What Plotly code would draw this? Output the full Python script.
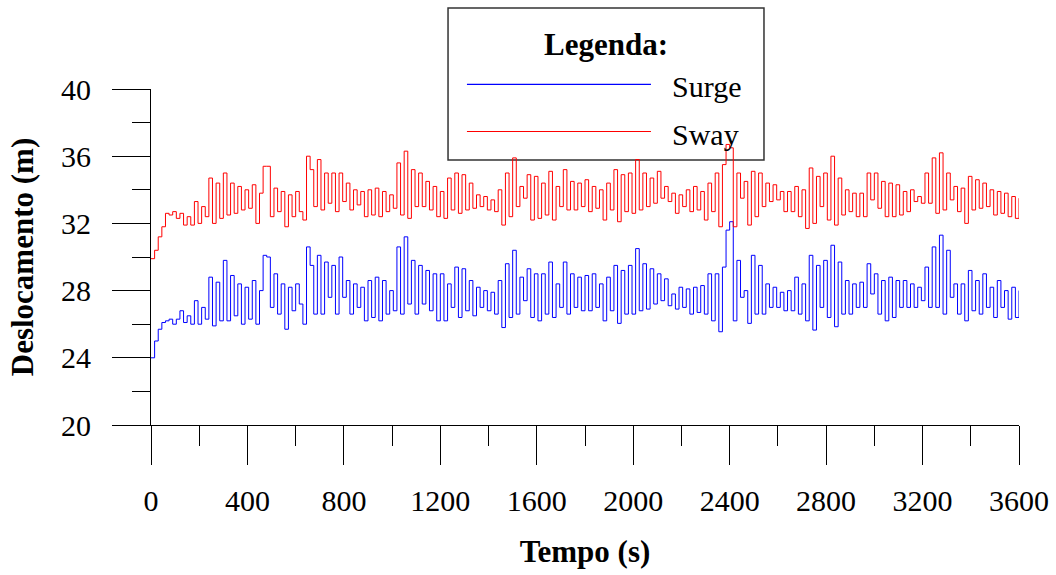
import plotly.graph_objects as go

# Time samples (s), one every 15 s
tempo = list(range(0, 3601, 15))

# Surge displacement (m)
surge = [
    24.0, 25.0, 25.7, 26.1, 26.2, 26.3, 26.0, 26.3, 26.8, 26.1, 26.5, 26.0,
    27.4, 26.0, 27.0, 26.3, 28.8, 25.9, 28.5, 26.2, 29.8, 26.2, 28.9, 26.5,
    28.4, 26.0, 28.2, 26.3, 28.6, 26.0, 28.0, 30.1, 30.0, 27.0, 29.0, 26.6,
    28.4, 25.7, 28.2, 26.8, 28.4, 27.2, 26.0, 30.6, 29.5, 26.6, 30.1, 26.6,
    29.7, 27.6, 29.5, 26.6, 30.0, 27.6, 28.6, 26.6, 28.4, 27.0, 28.2, 26.2,
    28.6, 26.4, 28.8, 26.2, 28.6, 26.6, 28.0, 26.8, 30.6, 26.6, 31.2, 27.2,
    29.8, 26.6, 29.5, 27.2, 29.2, 26.8, 29.0, 26.2, 29.0, 26.2, 28.4, 27.0,
    29.4, 26.4, 29.3, 26.8, 28.6, 26.5, 28.2, 27.0, 28.0, 26.8, 27.9, 26.6,
    28.6, 25.8, 29.6, 26.4, 30.4, 26.6, 28.8, 27.4, 29.3, 26.4, 29.0, 26.2,
    29.0, 26.6, 29.7, 26.4, 28.4, 27.0, 29.7, 26.6, 29.0, 27.0, 28.8, 26.8,
    28.9, 26.8, 29.0, 27.0, 28.4, 26.2, 28.8, 26.8, 29.5, 26.05, 29.2, 26.6,
    29.5, 26.6, 30.5, 26.8, 29.6, 26.9, 29.3, 27.2, 29.0, 27.4, 28.7, 27.1,
    27.8, 26.9, 28.2, 27.0, 28.1, 26.6, 28.2, 26.7, 28.3, 26.6, 29.0, 26.2,
    29.0, 25.55, 29.4, 31.6, 32.1, 26.2, 29.8, 27.6, 28.0, 26.05, 30.1, 26.6,
    29.5, 26.6, 28.4, 27.0, 28.2, 27.0, 27.9, 26.8, 28.0, 26.8, 28.8, 26.6,
    28.4, 26.2, 30.1, 25.65, 29.5, 27.0, 29.8, 26.4, 30.7, 25.85, 29.7, 26.6,
    28.6, 26.6, 28.4, 27.0, 28.5, 27.0, 29.6, 27.8, 29.0, 26.6, 28.6, 26.2,
    28.8, 26.4, 28.6, 27.0, 28.6, 27.0, 28.4, 27.0, 28.2, 27.4, 29.4, 27.0,
    30.6, 27.0, 31.3, 26.6, 30.4, 27.6, 28.4, 26.6, 28.4, 26.2, 29.2, 26.8,
    28.6, 26.6, 29.0, 27.0, 28.2, 26.4, 28.6, 27.0, 28.0, 26.3, 28.2, 26.4,
    28.0,
]

# Sway displacement (m)
sway = [
    29.9, 30.4, 31.2, 31.8, 32.6, 32.5, 32.7, 32.3, 32.6, 31.9, 32.4, 31.9,
    33.3, 32.0, 33.0, 32.4, 34.7, 32.0, 34.4, 32.3, 35.0, 32.5, 34.4, 32.6,
    34.2, 32.8, 34.0, 32.9, 34.3, 32.0, 33.8, 35.4, 35.4, 32.4, 34.1, 32.7,
    33.9, 31.8, 33.7, 32.4, 33.9, 32.7, 32.2, 36.0, 35.2, 33.0, 35.8, 32.8,
    35.0, 33.2, 35.0, 32.7, 35.0, 33.3, 34.4, 32.8, 34.0, 33.1, 33.9, 32.4,
    34.0, 32.5, 34.1, 32.4, 33.9, 32.7, 33.7, 32.9, 35.6, 32.5, 36.3, 32.3,
    35.2, 33.0, 35.0, 33.0, 34.5, 32.8, 34.2, 32.4, 33.9, 32.3, 34.7, 32.8,
    35.0, 32.6, 34.9, 32.8, 34.4, 32.9, 33.7, 33.0, 33.6, 32.8, 33.4, 32.7,
    34.0, 31.9, 35.0, 32.4, 35.9, 33.0, 34.2, 33.5, 34.9, 32.2, 34.8, 32.3,
    34.4, 32.5, 35.1, 32.2, 34.2, 33.0, 35.2, 32.8, 34.5, 32.8, 34.4, 33.0,
    34.6, 32.7, 34.2, 32.9, 34.0, 32.2, 34.4, 32.8, 35.2, 32.1, 34.9, 32.7,
    35.0, 32.6, 35.8, 32.8, 35.0, 33.0, 34.7, 33.2, 35.1, 33.5, 34.2, 33.3,
    33.8, 32.6, 33.7, 33.0, 34.0, 32.7, 34.2, 32.8, 33.9, 32.2, 34.4, 32.7,
    35.0, 31.8, 35.5, 36.7, 36.5, 31.8, 35.0, 33.5, 34.5, 31.9, 35.1, 32.4,
    35.0, 33.0, 34.4, 33.3, 34.3, 33.4, 33.9, 32.7, 33.9, 32.7, 34.2, 32.4,
    34.0, 31.7, 35.3, 32.0, 34.8, 33.0, 35.0, 32.2, 36.0, 31.9, 34.7, 32.5,
    34.0, 32.7, 33.8, 32.4, 33.8, 32.4, 35.0, 33.4, 35.0, 32.9, 34.5, 32.4,
    34.4, 32.4, 34.3, 32.5, 33.9, 32.7, 34.0, 33.3, 33.6, 33.2, 35.0, 33.2,
    35.9, 32.6, 36.2, 32.8, 35.0, 33.4, 34.2, 32.7, 34.1, 32.0, 34.8, 32.8,
    34.6, 32.9, 34.4, 33.0, 34.0, 32.5, 33.9, 32.6, 33.8, 32.4, 33.6, 32.3,
    33.5,
]

x_ticks = list(range(0, 3601, 400))
y_ticks = [20, 24, 28, 32, 36, 40]
series_names = ["Surge", "Sway"]
series_colors = ["#0000ff", "#ff0000"]

FONT = "Liberation Serif"

fig = go.Figure()
for name, vals, col in zip(series_names, [surge, sway], series_colors):
    fig.add_trace(go.Scatter(
        x=tempo, y=vals, mode="lines", name=name,
        line=dict(color=col, width=1, shape="hv"),
        showlegend=False,
    ))

fig.update_layout(
    width=1056, height=575,
    margin=dict(l=151, r=37, t=89, b=150),
    paper_bgcolor="white", plot_bgcolor="white",
    font=dict(family=FONT, color="black", size=29),
)

fig.update_xaxes(
    range=[0, 3600], tickvals=x_ticks, ticktext=[str(v) for v in x_ticks],
    showgrid=False, zeroline=False, automargin=False,
    showline=True, linecolor="black", linewidth=1,
    ticks="outside", ticklen=39, tickwidth=1, tickcolor="black",
    minor=dict(dtick=200, tick0=0, ticks="outside", ticklen=20,
               tickwidth=1, tickcolor="black", showgrid=False),
    tickfont=dict(family=FONT, size=30),
    ticklabelstandoff=10,
    title=dict(text="<b>Tempo (s)</b>", font=dict(family=FONT, size=31),
               standoff=24),
)
fig.update_yaxes(
    range=[20, 40], tickvals=y_ticks, ticktext=[str(v) for v in y_ticks],
    showgrid=False, zeroline=False, automargin=False,
    showline=True, linecolor="black", linewidth=1,
    ticks="outside", ticklen=38, tickwidth=1, tickcolor="black",
    minor=dict(dtick=2, tick0=20, ticks="outside", ticklen=18,
               tickwidth=1, tickcolor="black", showgrid=False),
    tickfont=dict(family=FONT, size=30),
    ticklabelstandoff=15,
    title=dict(text="<b>Deslocamento (m)</b>", font=dict(family=FONT, size=31),
               standoff=18),
)

# Legend box drawn manually (long sample lines as in the original)
fig.add_shape(type="rect", xref="paper", yref="paper",
              x0=0.3422, x1=0.7062, y0=0.7887, y1=1.2411,
              line=dict(color="#333333", width=1.5), fillcolor="rgba(0,0,0,0)",
              layer="below")
fig.add_annotation(xref="paper", yref="paper", x=0.524, y=1.131,
                   text="<b>Legenda:</b>", showarrow=False,
                   font=dict(family=FONT, size=31), xanchor="center", yanchor="middle")
legend_y = [1.014, 0.8735]
for name, col, ly in zip(series_names, series_colors, legend_y):
    fig.add_shape(type="line", xref="paper", yref="paper",
                  x0=0.364, x1=0.576, y0=ly, y1=ly,
                  line=dict(color=col, width=1.2))
    fig.add_annotation(xref="paper", yref="paper", x=0.598, y=ly - 0.008,
                       text=name, showarrow=False,
                       font=dict(family=FONT, size=30),
                       xanchor="left", yanchor="middle")

fig.write_html("out.html")
